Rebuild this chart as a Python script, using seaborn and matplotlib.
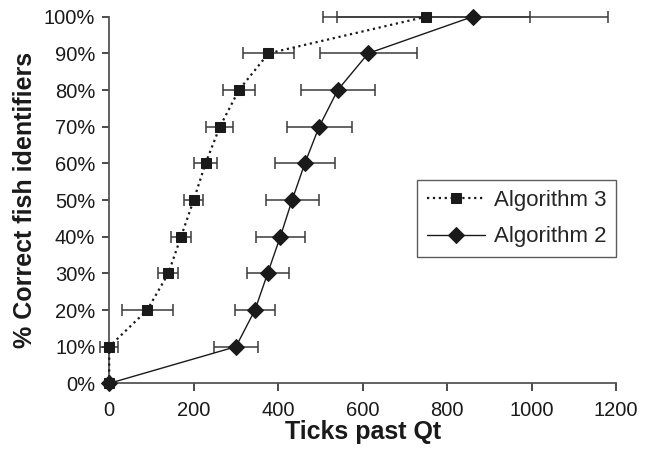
import numpy as np
import pandas as pd
import matplotlib
matplotlib.use("Agg")
import matplotlib.pyplot as plt
from matplotlib.ticker import PercentFormatter
import seaborn as sns

# data
pct = [0.0, 0.1, 0.2, 0.3, 0.4, 0.5, 0.6, 0.7, 0.8, 0.9, 1.0]
alg3_ticks = [0, 0, 90, 140, 170, 200, 228, 262, 307, 377, 750]
alg3_err = [0, 21, 60, 24, 23, 23, 27, 32, 38, 60, 245]
alg2_ticks = [0, 300, 345, 375, 405, 433, 463, 497, 541, 613, 860]
alg2_err = [0, 53, 48, 50, 58, 63, 71, 77, 88, 115, 320]

sns.set_style("ticks")
plt.rcParams["font.family"] = ["Liberation Sans", "DejaVu Sans"]

fig = plt.figure(figsize=(6.5, 4.51), dpi=100)
ax = fig.add_axes([0.168, 0.15, 0.78, 0.813])

ink = "#1a1a1a"

#error bars first so markers sit on top
ax.errorbar(alg3_ticks, pct, xerr=alg3_err, fmt="none", ecolor="#3a3a3a",
            elinewidth=1.1, capsize=4.5, capthick=1.1, clip_on=False, zorder=2)
ax.errorbar(alg2_ticks, pct, xerr=alg2_err, fmt="none", ecolor="#3a3a3a",
            elinewidth=1.1, capsize=4.5, capthick=1.1, clip_on=False, zorder=2)

df3 = pd.DataFrame({"ticks": alg3_ticks, "pct": pct})
df2 = pd.DataFrame({"ticks": alg2_ticks, "pct": pct})
sns.lineplot(data=df3, x="ticks", y="pct", sort=False, estimator=None, ax=ax,
             color=ink, linestyle=":", linewidth=1.6, marker="s", markersize=7,
             markeredgecolor=ink, label="Algorithm 3", clip_on=False, zorder=3)
sns.lineplot(data=df2, x="ticks", y="pct", sort=False, estimator=None, ax=ax,
             color=ink, linestyle="-", linewidth=1.0, marker="D", markersize=8.5,
             markeredgecolor=ink, label="Algorithm 2", clip_on=False, zorder=3)

ax.set_xlim(0, 1200)
ax.set_ylim(0, 1.0)
ax.set_xticks(np.arange(0, 1201, 200))
ax.set_yticks(np.arange(0, 1.01, 0.1))
ax.yaxis.set_major_formatter(PercentFormatter(1.0, decimals=0))
ax.tick_params(labelsize=14.5, colors=ink, width=1.1)
ax.tick_params(axis="y", length=5, pad=5)
ax.tick_params(axis="x", length=6, pad=7)
ax.set_xlabel("Ticks past Qt", fontsize=18, fontweight="bold", color=ink, labelpad=0)
ax.set_ylabel("% Correct fish identifiers", fontsize=18, fontweight="bold", color=ink, labelpad=5)

sns.despine(ax=ax)
for s in ["left", "bottom"]:
    ax.spines[s].set_color("#555555")
    ax.spines[s].set_linewidth(1.3)

leg = ax.legend(loc="upper right", bbox_to_anchor=(1.0, 0.555), fontsize=16,
                frameon=True, fancybox=False, edgecolor="#333333", borderaxespad=0,
                handlelength=2.6, borderpad=0.45, labelspacing=0.7, handletextpad=0.4)
leg.get_frame().set_linewidth(1.0)

fig.savefig("out.png", dpi=100)
